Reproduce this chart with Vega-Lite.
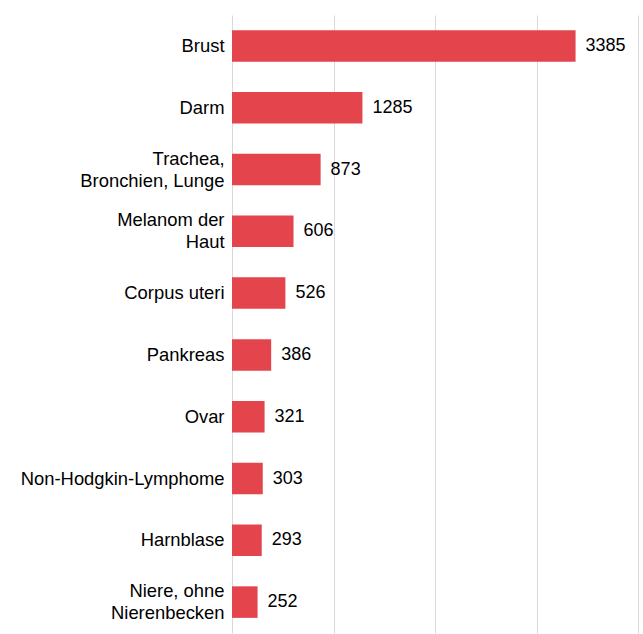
{
  "$schema": "https://vega.github.io/schema/vega-lite/v6.json",
  "autosize": "none",
  "width": 406,
  "height": 618,
  "padding": {"left": 232, "top": 15, "right": 5, "bottom": 1},
  "background": "white",
  "config": {
    "view": {"stroke": null},
    "font": "Liberation Sans"
  },
  "data": {
    "values": [
      {"site": "Brust", "cases": 3385},
      {"site": "Darm", "cases": 1285},
      {"site": "Trachea,\nBronchien, Lunge", "cases": 873},
      {"site": "Melanom der\nHaut", "cases": 606},
      {"site": "Corpus uteri", "cases": 526},
      {"site": "Pankreas", "cases": 386},
      {"site": "Ovar", "cases": 321},
      {"site": "Non-Hodgkin-Lymphome", "cases": 303},
      {"site": "Harnblase", "cases": 293},
      {"site": "Niere, ohne\nNierenbecken", "cases": 252}
    ]
  },
  "encoding": {
    "y": {
      "field": "site",
      "type": "nominal",
      "sort": null,
      "scale": {"paddingInner": 0.49, "paddingOuter": 0.245},
      "axis": {
        "title": null,
        "domain": false,
        "ticks": false,
        "labelPadding": 8,
        "labelFontSize": 18.4,
        "labelColor": "#000000",
        "labelLineHeight": 22,
        "labelLimit": 300,
        "labelOffset": {"condition": {"test": "indexof(datum.label, '\\n') >= 0", "value": -11}, "value": 0},
        "labelExpr": "split(datum.label, '\\n')"
      }
    },
    "x": {
      "field": "cases",
      "type": "quantitative",
      "scale": {"domain": [0, 4000], "nice": false},
      "axis": {
        "title": null,
        "labels": false,
        "ticks": false,
        "domain": false,
        "grid": true,
        "gridColor": "#d9d9d9",
        "gridWidth": 1,
        "values": [0, 1000, 2000, 3000, 3999]
      }
    }
  },
  "layer": [
    {"mark": {"type": "bar", "color": "#e4444b"}},
    {
      "mark": {"type": "text", "align": "left", "baseline": "middle", "dx": 10, "fontSize": 18, "color": "#000000"},
      "encoding": {"text": {"field": "cases", "type": "quantitative", "format": "d"}}
    }
  ]
}
